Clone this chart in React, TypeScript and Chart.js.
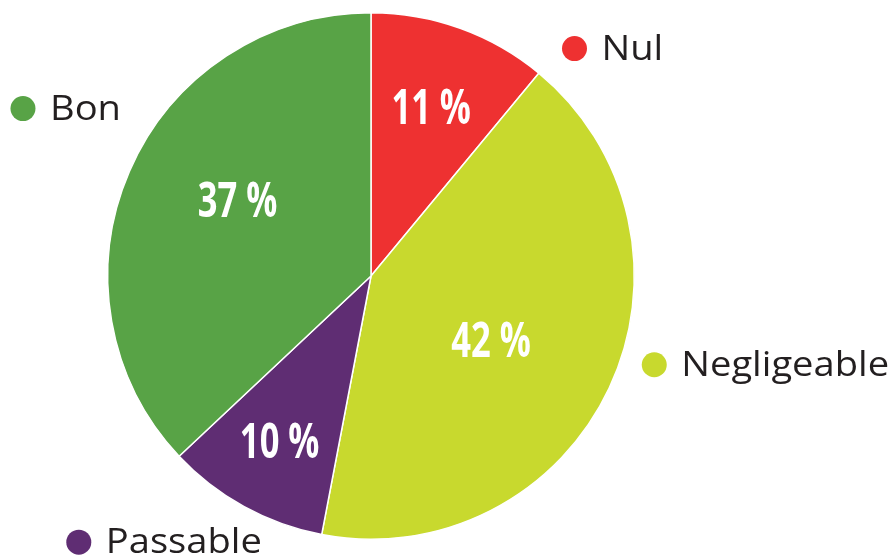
import React, { useEffect, useRef } from "react";
import { Chart, registerables } from "chart.js";

Chart.register(...registerables);

const categories = ["Nul", "Negligeable", "Passable", "Bon"];
const values = [11, 42, 10, 37];
const valueLabels = ["11 %", "42 %", "10 %", "37 %"];
const colors = ["#EE3131", "#C8D92E", "#5F2D73", "#58A346"];

// style: label radial fraction for percent text, legend anchor offsets (in radii)
const pctRadius = [0.675, 0.52, 0.72, 0.58];
const pctAngleShift = [0, 0.06, 0, 0.1];
const legendOffsets: [number, number][] = [
  [0.773, -0.864],
  [1.076, 0.337],
  [-1.11, 1.011],
  [-1.322, -0.636],
];

const labelPlugin = {
  id: "labelPlugin",
  afterDatasetsDraw(chart: any) {
    const ctx = chart.ctx;
    const meta = chart.getDatasetMeta(0);
    meta.data.forEach((arc: any, i: number) => {
      const { x, y, startAngle, endAngle, outerRadius } = arc.getProps(
        ["x", "y", "startAngle", "endAngle", "outerRadius"],
        true
      );
      const mid = (startAngle + endAngle) / 2 + pctAngleShift[i];
      const r = outerRadius * pctRadius[i];
      const px = x + Math.cos(mid) * r;
      const py = y + Math.sin(mid) * r;
      ctx.save();
      ctx.translate(px, py);
      ctx.scale(0.72, 1);
      ctx.fillStyle = "#ffffff";
      ctx.font = "bold 48px 'Open Sans'";
      ctx.textAlign = "center";
      ctx.textBaseline = "middle";
      ctx.fillText(valueLabels[i], 0, 2);
      ctx.restore();

      const [ox, oy] = legendOffsets[i];
      const dx = x + ox * outerRadius;
      const dy = y + oy * outerRadius;
      ctx.save();
      ctx.beginPath();
      ctx.arc(dx, dy, 12.5, 0, Math.PI * 2);
      ctx.fillStyle = colors[i];
      ctx.fill();
      ctx.translate(dx + 27, dy + 1);
      ctx.scale(1.09, 1);
      ctx.fillStyle = "#231F20";
      ctx.font = "35px 'Open Sans'";
      ctx.textAlign = "left";
      ctx.textBaseline = "middle";
      ctx.fillText(categories[i], 0, 0);
      ctx.restore();
    });
  },
};

export default function App() {
  const ref = useRef<HTMLCanvasElement | null>(null);
  useEffect(() => {
    if (!ref.current) return;
    const chart = new Chart(ref.current, {
      type: "pie",
      data: {
        labels: categories,
        datasets: [
          {
            data: values,
            backgroundColor: colors,
            borderColor: "#ffffff",
            borderWidth: 1.5,
          },
        ],
      },
      options: {
        responsive: false,
        animation: false,
        layout: { padding: { top: 12, bottom: 17, left: 107, right: 259 } },
        plugins: {
          legend: { display: false },
          tooltip: { enabled: false },
        },
      },
      plugins: [labelPlugin],
    });
    return () => chart.destroy();
  }, []);
  return (
    <div style={{ position: "fixed", left: 0, top: 0, width: 894, height: 557, background: "#fff" }}>
      <canvas ref={ref} width={894} height={557} style={{ width: 894, height: 557 }} />
    </div>
  );
}
